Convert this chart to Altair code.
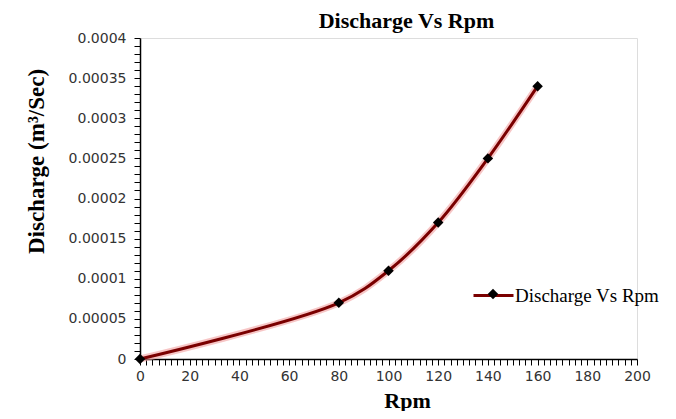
import altair as alt
import pandas as pd

# data
rpm = [0, 80, 100, 120, 140, 160]
discharge = [0.0, 0.00007, 0.00011, 0.00017, 0.00025, 0.00034]
series_name = "Discharge Vs Rpm"

# axis tick positions (major + minor)
x_ticks = [round(i * 2.5, 1) for i in range(81)]
y_ticks = [round(i * 0.00001, 5) for i in range(41)]

df = pd.DataFrame({"rpm": rpm, "discharge": discharge, "series": [series_name] * len(rpm)})

x_enc = alt.X(
    "rpm:Q",
    scale=alt.Scale(domain=[0, 200], nice=False, zero=True),
    axis=alt.Axis(
        values=x_ticks,
        labelExpr="datum.value % 20 === 0 ? format(datum.value, 'd') : ''",
        grid=False, domainColor="black", domainWidth=1.5,
        tickColor="black", tickWidth=1, tickSize=6,
        labelPadding=4, labelFont="DejaVu Sans", labelFontSize=14, labelColor="#333333",
        labelFlush=False, labelOverlap=False,
        title="Rpm", titleFont="Liberation Serif", titleFontSize=22, titleFontWeight="bold",
        titleColor="black", titleX=267, titleY=48, titleBaseline="alphabetic", titleAlign="center",
    ),
)
y_enc = alt.Y(
    "discharge:Q",
    scale=alt.Scale(domain=[0, 0.0004], nice=False),
    axis=alt.Axis(
        values=y_ticks,
        labelExpr="abs(datum.value / 0.00005 - round(datum.value / 0.00005)) < 0.001 ? format(datum.value, '~g') : ''",
        grid=False, domainColor="black", domainWidth=1.5,
        tickColor="black", tickWidth=1, tickSize=6,
        labelPadding=8, labelFont="DejaVu Sans", labelFontSize=14, labelColor="#333333",
        labelFlush=False, labelOverlap=False,
        title="Discharge (m³/Sec)", titleFont="Liberation Serif", titleFontSize=23,
        titleFontWeight="bold", titleColor="black", titleX=-97, titleY=123,
        titleBaseline="alphabetic", titleAlign="center", titleAngle=-90,
    ),
)

curve = "catmull-rom"

glow = alt.Chart(df).mark_line(interpolate=curve, strokeWidth=7, color="#f2a0a0", opacity=0.6).encode(
    x=x_enc, y=y_enc
)

line = alt.Chart(df).mark_line(interpolate=curve, strokeWidth=3).encode(
    x=x_enc,
    y=y_enc,
    color=alt.Color(
        "series:N",
        scale=alt.Scale(range=["#7a0000"]),
        legend=alt.Legend(
            orient="none", legendX=332, legendY=236, title=None,
            symbolType="stroke", symbolSize=1600, symbolStrokeWidth=3,
            labelFont="Liberation Serif", labelFontSize=19, labelColor="black",
            labelOffset=0, padding=0,
        ),
    ),
)

points = alt.Chart(df).mark_point(filled=True, size=110, opacity=1, color="black").encode(
    x=x_enc,
    y=y_enc,
    shape=alt.Shape(
        "series:N",
        scale=alt.Scale(range=["diamond"]),
        legend=alt.Legend(
            orient="none", legendX=344, legendY=247, title=None,
            symbolSize=110, symbolFillColor="black", symbolStrokeColor="black",
            symbolOpacity=1, labelExpr="''", labelFontSize=18, padding=0,
        ),
    ),
)

chart = (
    alt.layer(glow, line, points)
    .properties(
        width=497,
        height=321,
        padding={"left": 132, "top": 30, "right": 30, "bottom": 52},
        autosize=alt.AutoSizeParams(type="none"),
        title=alt.TitleParams(
            "Discharge Vs Rpm", font="Liberation Serif", fontSize=22, fontWeight="bold",
            color="black", anchor="middle", offset=-2, dx=18,
        ),
    )
    .configure_view(stroke=None)
    .configure(background="white")
)

chart.save("out.html", embed_options={"renderer": "svg", "actions": False})
